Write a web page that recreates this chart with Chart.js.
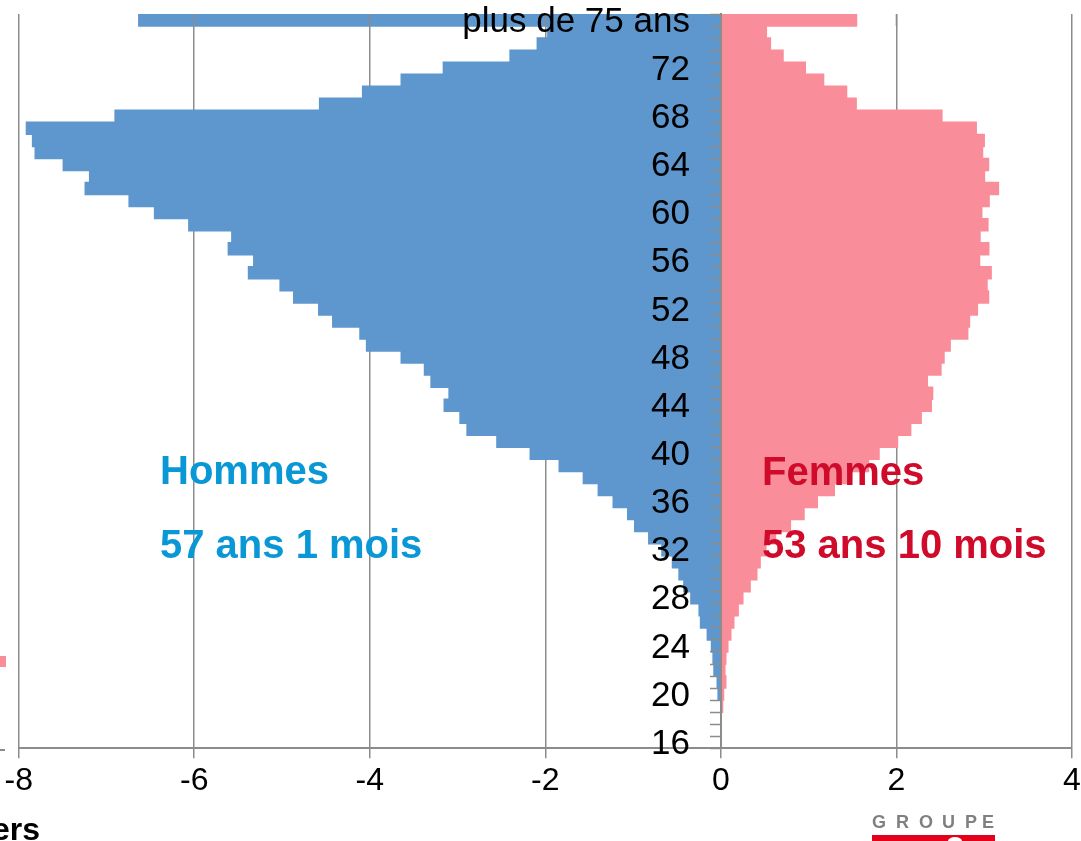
<!DOCTYPE html>
<html><head><meta charset="utf-8">
<script src="https://cdn.jsdelivr.net/npm/chart.js@4.4.1/dist/chart.umd.min.js"></script>
<style>
html,body{margin:0;padding:0;background:#fff;overflow:hidden}
#wrap{position:relative;width:1081px;height:841px}
</style></head>
<body><div id="wrap"><canvas id="c" width="1081" height="841"></canvas></div>
<script>
const ageLabels = ['16','17','18','19','20','21','22','23','24','25','26','27','28','29','30','31','32','33','34','35','36','37','38','39','40','41','42','43','44','45','46','47','48','49','50','51','52','53','54','55','56','57','58','59','60','61','62','63','64','65','66','67','68','69','70','71','72','73','74','75','plus de 75 ans'];

// Men (negative, thousands)
const hommes = [0,0,0,-0.01,-0.04,-0.05,-0.087,-0.097,-0.115,-0.163,-0.24,-0.256,-0.35,-0.43,-0.485,-0.56,-0.68,-0.83,-0.99,-1.07,-1.235,-1.405,-1.575,-1.85,-2.18,-2.56,-2.90,-2.98,-3.16,-3.105,-3.31,-3.385,-3.65,-4.045,-4.12,-4.43,-4.59,-4.875,-5.03,-5.39,-5.33,-5.62,-5.58,-6.07,-6.46,-6.75,-7.25,-7.20,-7.50,-7.82,-7.85,-7.92,-6.91,-4.58,-4.09,-3.65,-3.17,-2.41,-2.10,-1.98,-6.64];

// Women (positive, thousands)
const femmes = [0,0,0,0.027,0.038,0.064,0.053,0.064,0.087,0.121,0.155,0.205,0.258,0.341,0.417,0.455,0.52,0.63,0.80,0.955,1.106,1.30,1.44,1.69,1.81,2.02,2.17,2.29,2.405,2.42,2.36,2.515,2.55,2.62,2.82,2.84,2.93,3.057,3.04,3.087,2.955,3.06,2.96,3.05,2.98,3.064,3.17,3.011,3.057,2.989,3.008,2.917,2.526,1.549,1.44,1.178,0.97,0.716,0.572,0.526,1.553];

const xTicks = [-8,-6,-4,-2,0,2,4];

const FONT = "'Liberation Sans', Arial, sans-serif";
const GRID = '#8c8c8c';

// grid lines show through the "plus de 75 ans" bar in the original
const topBandGrid = {
  id: 'topBandGrid',
  afterDatasetsDraw(chart) {
    const ctx = chart.ctx, xs = chart.scales.x, ys = chart.scales.y;
    const idx = ageLabels.length - 1;
    const c = ys.getPixelForValue(idx);
    const half = Math.abs(ys.getPixelForValue(idx - 1) - c) / 2;
    ctx.save();
    ctx.strokeStyle = GRID;
    ctx.lineWidth = 1.5;
    xTicks.forEach(v => {
      if (v === 0 || v === xs.min || v === xs.max) return;
      const x = xs.getPixelForValue(v);
      ctx.beginPath();
      ctx.moveTo(x, chart.chartArea.top);
      ctx.lineTo(x, c + half);
      ctx.stroke();
    });
    ctx.restore();
  }
};

const annotations = {
  id: 'annotations',
  afterDraw(chart) {
    const ctx = chart.ctx;
    ctx.save();
    ctx.textAlign = 'left';
    ctx.textBaseline = 'alphabetic';
    ctx.font = 'bold 40px ' + FONT;
    ctx.fillStyle = '#0a97d5';
    ctx.fillText('Hommes', 160, 484);
    ctx.fillText('57 ans 1 mois', 160, 558);
    ctx.fillStyle = '#cf0a2a';
    ctx.fillText('Femmes', 762, 485);
    ctx.fillText('53 ans 10 mois', 762, 558);
    // cropped axis title
    ctx.fillStyle = '#000';
    ctx.font = 'bold 32px ' + FONT;
    ctx.textAlign = 'right';
    ctx.fillText('Milliers', 40, 840);
    // cropped legend swatch and tick
    ctx.fillStyle = '#f98e9a';
    ctx.fillRect(0, 656, 6, 11);
    ctx.fillStyle = GRID;
    ctx.fillRect(0, 749, 5, 2);
    // logo
    ctx.fillStyle = '#808080';
    ctx.font = 'bold 18px ' + FONT;
    ctx.textAlign = 'left';
    const letters = ['G','R','O','U','P','E'];
    const lx = [872, 896, 919, 942, 965, 982];
    letters.forEach((l, i) => ctx.fillText(l, lx[i], 828));
    ctx.fillStyle = '#e2001a';
    ctx.fillRect(872, 835, 123, 6);
    ctx.fillStyle = '#fff';
    ctx.beginPath();
    ctx.ellipse(955, 841, 7, 4, 0, Math.PI, 2 * Math.PI);
    ctx.fill();
    ctx.restore();
  }
};

const zeroPad = s => { s.paddingTop = 0; s.paddingBottom = 0; s.paddingLeft = 0; s.paddingRight = 0; };

new Chart(document.getElementById('c'), {
  type: 'bar',
  data: {
    labels: ageLabels,
    datasets: [
      { label: 'Hommes', data: hommes, backgroundColor: '#5e96ce', borderWidth: 0, barPercentage: 1.12, categoryPercentage: 1 },
      { label: 'Femmes', data: femmes, backgroundColor: '#f98e9a', borderWidth: 0, barPercentage: 1.12, categoryPercentage: 1 }
    ]
  },
  options: {
    indexAxis: 'y',
    responsive: false,
    animation: false,
    devicePixelRatio: 1,
    layout: { padding: { top: 14, left: 18.7, right: 9, bottom: 0 } },
    plugins: { legend: { display: false }, tooltip: { enabled: false } },
    scales: {
      x: {
        type: 'linear', min: -8, max: 4, stacked: true,
        afterBuildTicks: s => { s.ticks = xTicks.map(v => ({ value: v })); },
        ticks: { font: { family: FONT, size: 32 }, color: '#000', padding: 4, maxRotation: 0 },
        grid: { color: GRID, lineWidth: 1.5, tickLength: 10, drawTicks: true, tickColor: GRID },
        border: { color: GRID, width: 2 },
        afterFit: s => { s.height = 92.7; s.paddingLeft = 0; s.paddingRight = 0; }
      },
      // category labels, right-aligned a little left of the zero line
      y: {
        type: 'category', reverse: true, stacked: true, offset: true,
        position: { x: -0.353 },
        grid: { display: false },
        border: { display: false },
        ticks: {
          autoSkip: false, padding: 0, color: '#000', z: 3, labelOffset: 2,
          font: { family: FONT, size: 35 },
          callback: function (v, i) { return i % 4 === 0 ? this.getLabelForValue(v) : ''; }
        },
        afterFit: zeroPad
      },
      // zero line with a tick mark between every category
      y2: {
        type: 'category', reverse: true, offset: true,
        position: { x: 0 },
        grid: { display: true, drawOnChartArea: false, drawTicks: true, tickLength: 10, tickColor: GRID, tickWidth: 1.5, offset: true, z: 2 },
        border: { display: true, color: GRID, width: 2, z: 2 },
        ticks: { display: false, autoSkip: false },
        afterFit: zeroPad
      }
    }
  },
  plugins: [topBandGrid, annotations]
});
</script>
</body></html>
